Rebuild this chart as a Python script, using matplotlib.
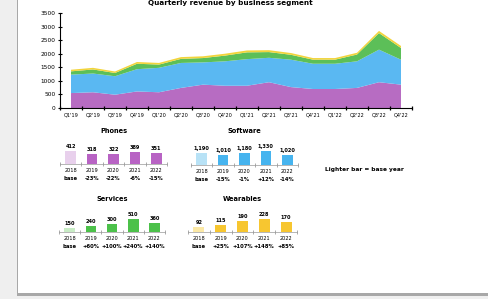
import numpy as np
import matplotlib
matplotlib.use("Agg")
import matplotlib.pyplot as plt
from matplotlib.patches import Rectangle

# ---- data ----
quarters = ["Q1'19", "Q2'19", "Q3'19", "Q4'19", "Q1'20", "Q2'20", "Q3'20", "Q4'20",
            "Q1'21", "Q2'21", "Q3'21", "Q4'21", "Q1'22", "Q2'22", "Q3'22", "Q4'22"]
phones = [550, 580, 490, 610, 580, 740, 860, 820, 820, 950, 770, 700, 700, 740, 950, 860]
software = [680, 690, 680, 820, 900, 920, 820, 900, 980, 900, 1010, 930, 930, 980, 1200, 920]
services = [120, 150, 120, 200, 120, 150, 160, 210, 250, 210, 180, 150, 150, 250, 610, 430]
wearables = [60, 60, 55, 65, 60, 65, 65, 70, 70, 70, 65, 60, 60, 65, 80, 75]

years = ["2018", "2019", "2020", "2021", "2022"]
phones_yr = [412, 318, 322, 389, 351]
software_yr = [1190, 1010, 1180, 1330, 1020]
services_yr = [150, 240, 300, 510, 360]
wearables_yr = [92, 115, 190, 228, 170]

W, H = 488, 299
PURPLE, BLUE, GREEN, YELLOW = "#b76cc2", "#5ab8f2", "#5cbf58", "#f2d43a"


def rect(x0, y_top, x1, y_bot):
    # pixel box -> figure fraction
    return [x0 / W, 1 - y_bot / H, (x1 - x0) / W, (y_bot - y_top) / H]


fig = plt.figure(figsize=(W / 100, H / 100), dpi=100)
fig.patch.set_facecolor("#efefef")
fig.patches.append(Rectangle((17 / W, 3 / H), 1, 1, transform=fig.transFigure,
                             facecolor="#a8a8a8", edgecolor="none", zorder=-2))
fig.patches.append(Rectangle((18 / W, 6 / H), 1, 1, transform=fig.transFigure,
                             facecolor="white", edgecolor="none", zorder=-1))

# ---- main stacked area ----
ax = fig.add_axes(rect(60, 13, 412, 108))
x = np.arange(len(quarters))
ax.stackplot(x, phones, software, services, wearables,
             colors=[PURPLE, BLUE, GREEN, YELLOW], linewidth=0)
ax.set_xlim(-0.5, len(quarters) - 0.5)
ax.set_ylim(0, 3500)
ax.set_yticks(np.arange(0, 3501, 500))
ax.tick_params(axis="y", labelsize=4.2, length=2.5, width=0.8, direction="inout", pad=2)
ax.set_xticks(np.arange(-0.5, len(quarters)), labels=[])
ax.set_xticks(x, labels=quarters, minor=True)
ax.tick_params(axis="x", which="major", length=3, width=0.9, direction="inout")
ax.tick_params(axis="x", which="minor", length=0, labelsize=3.6, pad=3)
ax.patch.set_alpha(0)
for s in ["top", "right"]:
    ax.spines[s].set_visible(False)
for s in ["left", "bottom"]:
    ax.spines[s].set_linewidth(0.8)
fig.text(230 / W, 1 - 0.5 / H, "Quarterly revenue by business segment",
         ha="center", va="top", fontsize=5.2, fontweight="bold")


# ---- small yearly panels ----
def panel(box, title, vals, light, dark):
    a = fig.add_axes(rect(*box))
    cols = [light] + [dark] * (len(vals) - 1)
    a.bar(np.arange(len(vals)), vals, width=0.5, color=cols)
    a.set_xlim(-0.5, len(vals) - 0.5)
    a.set_ylim(0, max(vals) * 1.55)
    a.set_yticks([])
    a.set_xticks(np.arange(-0.5, len(vals)), labels=[])
    a.tick_params(axis="x", length=3, width=0.5, direction="inout", color="#888888")
    for s in ["top", "right", "left"]:
        a.spines[s].set_visible(False)
    a.spines["bottom"].set_color("#999999")
    a.spines["bottom"].set_linewidth(0.5)
    a.patch.set_alpha(0)
    for i, v in enumerate(vals):
        a.annotate(f"{v:,}", (i, v), xytext=(0, 1.5), textcoords="offset points",
                   ha="center", va="bottom", fontsize=3.6, fontweight="bold")
        chg = "base" if i == 0 else f"{(v - vals[0]) / vals[0] * 100:+.0f}%"
        a.annotate(years[i], (i, 0), xytext=(0, -3), textcoords="offset points",
                   ha="center", va="top", fontsize=3.6)
        a.annotate(chg, (i, 0), xytext=(0, -8.5), textcoords="offset points",
                   ha="center", va="top", fontsize=3.8, fontweight="bold")
    a.set_title(title, fontsize=4.8, fontweight="bold", pad=8)
    return a


panel((60, 144, 167, 164), "Phones", phones_yr, "#e8d0ec", "#b863c4")
panel((191, 144, 298, 165), "Software", software_yr, "#b8e2f6", "#46b4ef")
panel((59, 212, 165, 232), "Services", services_yr, "#c8ecc5", "#4cc14a")
panel((188, 212, 297, 232), "Wearables", wearables_yr, "#fbe8a5", "#f7c630")

fig.text(325 / W, 1 - 170 / H, "Lighter bar = base year", ha="left", va="center",
         fontsize=4.2, fontweight="bold")

fig.savefig("out.png", dpi=100, facecolor=fig.get_facecolor())
